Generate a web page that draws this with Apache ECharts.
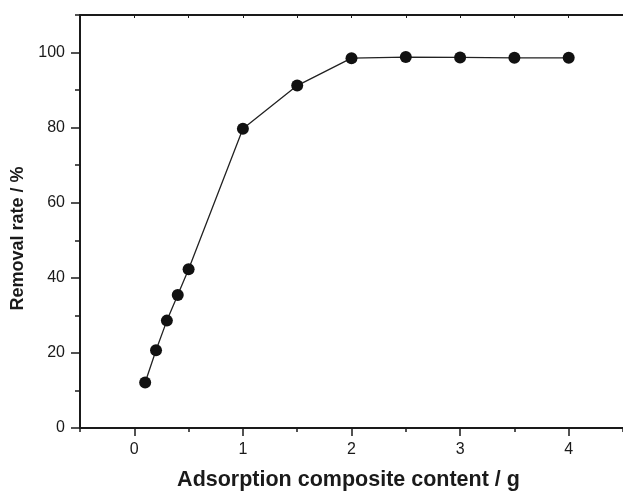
<html>
    <head>
        <meta charset="utf-8">
        <script src="https://cdn.jsdelivr.net/npm/echarts@6/dist/echarts.min.js"></script>
    </head>
    <body>
        <style>
            html, body, #main {
                width: 100%;
                height: 100%;
                margin: 0;
                background: #fff;
            }
        </style>
        <div id="main"></div>
        <script>

        // composite content (g) and removal rate (%)
        var contents = [0.1, 0.2, 0.3, 0.4, 0.5, 1, 1.5, 2, 2.5, 3, 3.5, 4];
        var removal = [12.1, 20.7, 28.6, 35.4, 42.3, 79.7, 91.2, 98.5, 98.8, 98.7, 98.6, 98.6];

        var xTicks = [0, 1, 2, 3, 4];
        var yTicks = [0, 20, 40, 60, 80, 100];

        var data = contents.map(function (c, i) {
            return [c, removal[i]];
        });

        var font = 'Liberation Sans, Arial, sans-serif';
        var ink = '#1a1a1a';

        var chart = echarts.init(document.getElementById('main'));

        chart.setOption({
            animation: false,
            grid: {
                left: 80,
                top: 15,
                width: 547,
                bottom: 64
            },
            xAxis: [
                {
                    // main bottom axis with labels
                    type: 'value',
                    position: 'bottom',
                    min: -0.5,
                    max: 4.5,
                    interval: 0.5,
                    name: 'Adsorption composite content / g',
                    nameLocation: 'middle',
                    nameGap: 41,
                    nameTextStyle: {
                        fontFamily: font,
                        fontWeight: 'bold',
                        fontSize: 21.5,
                        color: ink,
                        padding: [0, 6, 0, 0]
                    },
                    axisLine: { onZero: false, lineStyle: { color: ink, width: 2 } },
                    axisTick: {
                        length: 8,
                        lineStyle: { color: ink, width: 1.5 },
                        customValues: xTicks
                    },
                    axisLabel: {
                        margin: 14,
                        fontFamily: font,
                        fontSize: 16,
                        color: ink,
                        customValues: xTicks
                    },
                    splitLine: { show: false }
                },
                {
                    // half-step minor ticks
                    type: 'value',
                    position: 'bottom',
                    min: -0.5,
                    max: 4.5,
                    interval: 0.5,
                    axisLine: { show: false, onZero: false },
                    axisTick: { length: 4, lineStyle: { color: ink, width: 1.5 } },
                    axisLabel: { show: false },
                    splitLine: { show: false }
                },
                {
                    // top frame
                    type: 'value',
                    position: 'top',
                    min: -0.5,
                    max: 4.5,
                    interval: 0.5,
                    axisLine: { onZero: false, lineStyle: { color: ink, width: 2 } },
                    axisTick: { inside: true, length: 3, lineStyle: { color: ink, width: 1 } },
                    axisLabel: { show: false },
                    splitLine: { show: false }
                }
            ],
            yAxis: [
                {
                    type: 'value',
                    position: 'left',
                    min: 0,
                    max: 110,
                    interval: 10,
                    name: 'Removal rate / %',
                    nameLocation: 'middle',
                    nameGap: 52,
                    nameTextStyle: {
                        fontFamily: font,
                        fontWeight: 'bold',
                        fontSize: 18,
                        color: ink,
                        padding: [0, 34, 0, 0]
                    },
                    axisLine: { onZero: false, lineStyle: { color: ink, width: 2 } },
                    axisTick: {
                        length: 9,
                        lineStyle: { color: ink, width: 1.5 },
                        customValues: yTicks
                    },
                    axisLabel: {
                        margin: 15,
                        fontFamily: font,
                        fontSize: 16,
                        color: ink,
                        customValues: yTicks
                    },
                    splitLine: { show: false }
                },
                {
                    type: 'value',
                    position: 'left',
                    min: 0,
                    max: 110,
                    interval: 10,
                    axisLine: { show: false, onZero: false },
                    axisTick: { length: 5, lineStyle: { color: ink, width: 1.5 } },
                    axisLabel: { show: false },
                    splitLine: { show: false }
                }
            ],
            series: [
                {
                    type: 'line',
                    data: data,
                    xAxisIndex: 0,
                    yAxisIndex: 0,
                    symbol: 'circle',
                    symbolSize: 12,
                    itemStyle: { color: '#111' },
                    lineStyle: { color: '#222', width: 1.3 }
                }
            ]
        });

        </script>
    </body>
</html>
